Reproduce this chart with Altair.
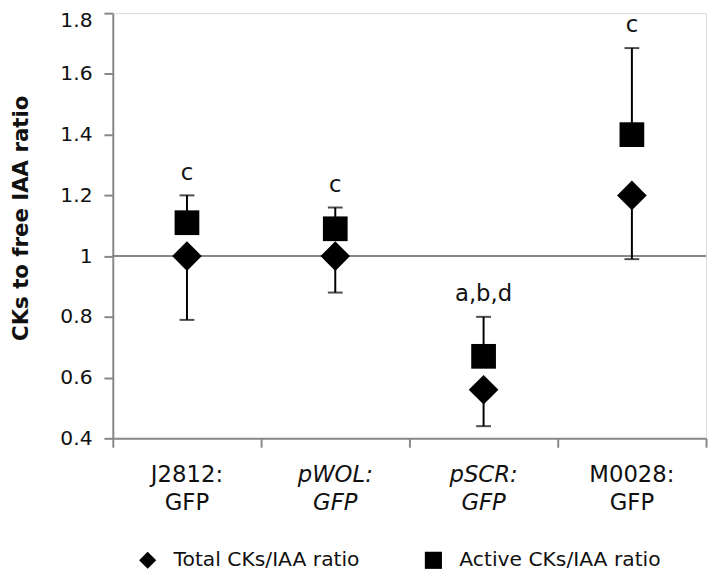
import altair as alt
import pandas as pd

# ---- data ----
categories = ["J2812", "pWOL", "pSCR", "M0028"]
label_line1 = ["J2812:", "pWOL:", "pSCR:", "M0028:"]
label_line2 = ["GFP", "GFP", "GFP", "GFP"]
label_italic = [False, True, True, False]
total_ratio = [1.00, 1.00, 0.56, 1.20]
total_err = [0.21, 0.12, 0.12, 0.21]          # drawn downward
active_ratio = [1.11, 1.09, 0.67, 1.40]
active_err = [0.09, 0.07, 0.13, 0.285]        # drawn upward
letters = ["c", "c", "a,b,d", "c"]
series_names = ["Total CKs/IAA ratio", "Active CKs/IAA ratio"]

FONT = "DejaVu Sans"
GRAY = "#878787"
TXT = "#111111"

df = pd.DataFrame({
    "cat": categories,
    "total": total_ratio,
    "total_low": [v - e for v, e in zip(total_ratio, total_err)],
    "active": active_ratio,
    "active_high": [v + e for v, e in zip(active_ratio, active_err)],
    "letter": letters,
    "label": [a + "\n" + b for a, b in zip(label_line1, label_line2)],
    "italic": label_italic,
})

pts = pd.DataFrame({
    "cat": categories * 2,
    "series": [series_names[0]] * 4 + [series_names[1]] * 4,
    "value": total_ratio + active_ratio,
})

xenc = alt.X("cat:N", sort=categories,
             scale=alt.Scale(domain=categories, paddingInner=0, paddingOuter=0),
             axis=alt.Axis(title=None, labels=False, tickBand="extent",
                           ticks=True, tickSize=9, tickColor=GRAY, tickWidth=2,
                           domainColor=GRAY, domainWidth=2, grid=False))

yscale = alt.Scale(domain=[0.4, 1.8], nice=False, zero=False)
yaxis = alt.Axis(values=[0.4, 0.6, 0.8, 1.0, 1.2, 1.4, 1.6, 1.8], format=".1~f",
                 grid=False, domainColor=GRAY, domainWidth=2, tickColor=GRAY,
                 tickWidth=2, tickSize=9, labelFontSize=20.5, labelColor=TXT,
                 labelPadding=12, labelFont=FONT,
                 labelOffset={"condition": {"test": "datum.value > 1.7", "value": 7}, "value": 0},
                 title="CKs to free IAA ratio", titleFont=FONT, titleFontSize=21.5,
                 titleFontWeight="bold", titleColor=TXT, titleAngle=270,
                 titleAlign="center", titleBaseline="middle", titleX=-92, titleY=207)

base = alt.Chart(df)

one_line = base.mark_rule(color=GRAY, strokeWidth=2).encode(
    y=alt.datum(1.0, scale=yscale, axis=yaxis),
)

total_bar = base.mark_rule(color="black", strokeWidth=2).encode(
    x=xenc, y=alt.Y("total:Q", scale=yscale, axis=yaxis), y2="total_low:Q")
total_cap = base.mark_tick(color="black", thickness=2, size=15, orient="horizontal").encode(
    x=xenc, y=alt.Y("total_low:Q", scale=yscale, axis=yaxis))
active_bar = base.mark_rule(color="black", strokeWidth=2).encode(
    x=xenc, y=alt.Y("active:Q", scale=yscale, axis=yaxis), y2="active_high:Q")
active_cap = base.mark_tick(color="black", thickness=2, size=15, orient="horizontal").encode(
    x=xenc, y=alt.Y("active_high:Q", scale=yscale, axis=yaxis))

shape_enc = alt.Shape(
    "series:N",
    scale=alt.Scale(domain=series_names, range=["diamond", "square"]),
    legend=alt.Legend(title=None, orient="none", direction="horizontal",
                      legendX=25, legendY=543, padding=0, labelFont=FONT,
                      labelFontSize=20.5, labelColor=TXT, labelLimit=400,
                      symbolSize=300, symbolFillColor="black",
                      symbolStrokeColor="black", symbolStrokeWidth=0,
                      labelOffset=16, columnPadding=64),
)

pts_total = alt.Chart(pts).transform_filter(
    alt.datum.series == series_names[0]
).mark_point(filled=True, color="black", opacity=1, size=900, strokeWidth=0).encode(
    x=xenc, y=alt.Y("value:Q", scale=yscale, axis=yaxis), shape=shape_enc)

pts_active = alt.Chart(pts).transform_filter(
    alt.datum.series == series_names[1]
).mark_point(filled=True, color="black", opacity=1, size=625, strokeWidth=0).encode(
    x=xenc, y=alt.Y("value:Q", scale=yscale, axis=yaxis), shape=shape_enc)

letter_text = base.mark_text(font=FONT, fontSize=23, color=TXT, dy=-23,
                             baseline="middle").encode(
    x=xenc, y=alt.Y("active_high:Q", scale=yscale, axis=yaxis), text="letter:N")

xlab_normal = base.transform_filter("!datum.italic").mark_text(
    font=FONT, fontSize=23, color=TXT, lineBreak="\n", lineHeight=28.5,
    baseline="middle").encode(x=xenc, y=alt.value(467), text="label:N")
xlab_italic = base.transform_filter("datum.italic").mark_text(
    font=FONT, fontSize=23, color=TXT, lineBreak="\n", lineHeight=28.5,
    fontStyle="italic", baseline="middle").encode(x=xenc, y=alt.value(467), text="label:N")

chart = alt.layer(
    one_line, total_bar, total_cap, active_bar, active_cap, pts_total, pts_active,
    letter_text, xlab_normal, xlab_italic,
).properties(
    width=600, height=430,
    padding={"left": 106, "top": 2, "right": 4, "bottom": 134},
    autosize=alt.AutoSizeParams(type="none"),
).configure_view(
    stroke="#c4c4c4", strokeWidth=1.5
).configure(font=FONT)

chart.save("out.html", embed_options={"renderer": "svg", "actions": False})
